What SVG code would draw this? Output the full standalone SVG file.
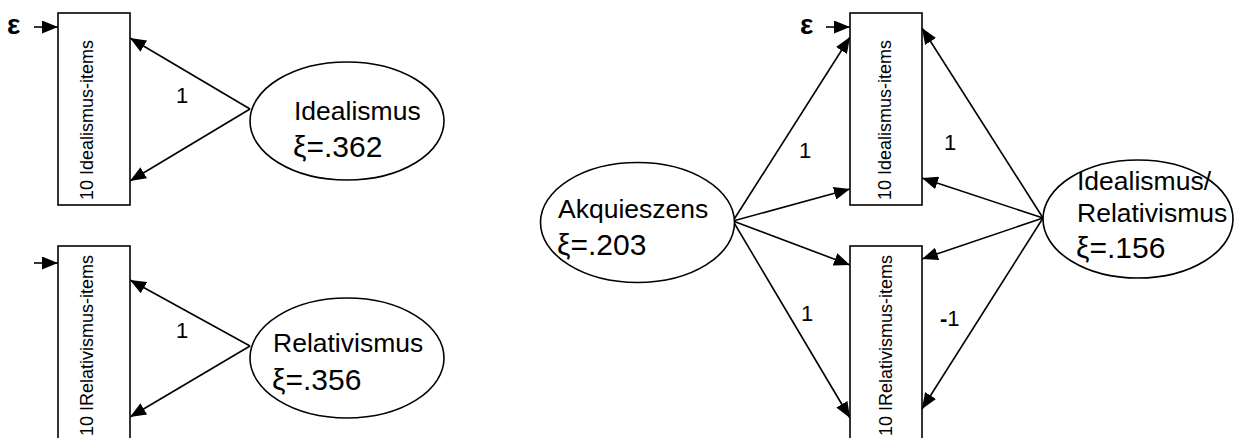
<svg xmlns="http://www.w3.org/2000/svg" width="1234" height="438" viewBox="0 0 1234 438">
<defs>
<marker id="ah" markerUnits="userSpaceOnUse" markerWidth="17" markerHeight="13" refX="16" refY="6.5" orient="auto">
<path d="M0,0 L16,6.5 L0,13 z" fill="#000"/>
</marker>
<style>
.box{fill:#fff;stroke:#000;stroke-width:1.6}
.ell{fill:#fff;stroke:#000;stroke-width:1.6}
.edge{stroke:#000;stroke-width:1.6;fill:none;marker-end:url(#ah)}
.t{font-family:"Liberation Sans",Arial,sans-serif;fill:#000}
.item{font-size:18px}
.name{font-size:26.5px}
.xi{font-size:30px}
.lbl{font-size:22px}
.eps{font-size:28px;font-weight:bold}
</style>
</defs>
<rect width="1234" height="438" fill="#fff"/>

<g id="connectors">
<line class="edge" x1="34" y1="27" x2="58" y2="27"/>
<line class="edge" x1="34" y1="263" x2="58" y2="263"/>
<line class="edge" x1="826" y1="27" x2="850" y2="27"/>
<line class="edge" x1="250" y1="109" x2="130" y2="38"/>
<line class="edge" x1="250" y1="109" x2="130" y2="181"/>
<line class="edge" x1="250" y1="346" x2="130" y2="280"/>
<line class="edge" x1="250" y1="346" x2="130" y2="417"/>
<line class="edge" x1="733" y1="221" x2="850" y2="37"/>
<line class="edge" x1="733" y1="221" x2="850" y2="189"/>
<line class="edge" x1="733" y1="221" x2="850" y2="265"/>
<line class="edge" x1="733" y1="221" x2="850" y2="418"/>
<line class="edge" x1="1043" y1="218" x2="922" y2="28"/>
<line class="edge" x1="1043" y1="218" x2="922" y2="178"/>
<line class="edge" x1="1043" y1="218" x2="922" y2="259"/>
<line class="edge" x1="1043" y1="218" x2="922" y2="409"/>
<text class="t lbl" x="176" y="103">1</text>
<text class="t lbl" x="176" y="338">1</text>
<text class="t lbl" x="799" y="158">1</text>
<text class="t lbl" x="801" y="321">1</text>
<text class="t lbl" x="944" y="150">1</text>
<text class="t lbl" x="940" y="326"><tspan font-weight="bold">-</tspan>1</text>
<text class="t eps" x="7" y="34">ε</text>
<text class="t eps" x="800" y="34">ε</text>
</g>

<g id="n-ideal-items-left">
<rect class="box" x="58" y="13" width="72" height="192"/>
<text class="t item" transform="translate(93,200) rotate(-90)">10 Idealismus-items</text>
</g>
<g id="n-rel-items-left">
<rect class="box" x="58" y="246" width="72" height="200"/>
<text class="t item" transform="translate(93,436) rotate(-90)">10 IRelativismus-items</text>
</g>
<g id="n-idealismus">
<ellipse class="ell" cx="347" cy="121" rx="97" ry="59"/>
<text class="t name" x="294" y="120">Idealismus</text>
<text class="t xi" x="293" y="157">ξ=.362</text>
</g>
<g id="n-relativismus">
<ellipse class="ell" cx="347" cy="358" rx="97" ry="60"/>
<text class="t name" x="273" y="352">Relativismus</text>
<text class="t xi" x="272" y="390">ξ=.356</text>
</g>

<g id="n-ideal-items-right">
<rect class="box" x="850" y="13" width="72" height="192"/>
<text class="t item" transform="translate(891,200) rotate(-90)">10 Idealismus-items</text>
</g>
<g id="n-rel-items-right">
<rect class="box" x="850" y="246" width="72" height="200"/>
<text class="t item" transform="translate(892,436) rotate(-90)">10 IRelativismus-items</text>
</g>
<g id="n-akquieszens">
<ellipse class="ell" cx="637.5" cy="222.5" rx="97" ry="60"/>
<text class="t name" x="558" y="218">Akquieszens</text>
<text class="t xi" x="557" y="255">ξ=.203</text>
</g>
<g id="n-ideal-rel">
<ellipse class="ell" cx="1138" cy="219" rx="95" ry="59"/>
<text class="t name" x="1077" y="190">Idealismus/</text>
<text class="t name" x="1077" y="222">Relativismus</text>
<text class="t xi" x="1076" y="258">ξ=.156</text>
</g>
</svg>
